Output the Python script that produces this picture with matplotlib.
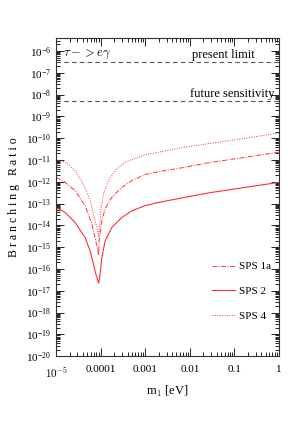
import numpy as np
import matplotlib
matplotlib.use("Agg")
import matplotlib.pyplot as plt
from matplotlib.ticker import LogLocator, FixedLocator, FixedFormatter, LogFormatterMathtext, NullFormatter

# values (log10 m1 [eV], log10 BR)
sps1a_logm = [-5.0, -4.798, -4.574, -4.350, -4.200, -4.126, -4.065, -4.050, -4.036, -3.975,
              -3.901, -3.751, -3.527, -3.303, -3.004, -2.735, -2.152, -1.547, -0.045, 0.0]
sps1a_logbr = [-11.80, -12.023, -12.406, -13.097, -13.926, -14.558, -15.171, -15.35, -14.71, -13.788,
               -13.235, -12.714, -12.253, -11.945, -11.668, -11.55, -11.346, -11.115, -10.654, -10.64]

sps2_logm = [-5.0, -4.798, -4.574, -4.350, -4.238, -4.164, -4.110, -4.045, -4.013, -3.975,
             -3.901, -3.751, -3.527, -3.303, -3.004, -2.735, -2.152, -1.547, -0.045, 0.0]
sps2_logbr = [-13.18, -13.406, -13.866, -14.558, -15.171, -15.77, -16.23, -16.65, -16.23, -15.479,
              -14.71, -14.097, -13.636, -13.327, -13.097, -12.959, -12.728, -12.498, -12.037, -12.03]

sps4_logm = [-5.0, -4.798, -4.574, -4.350, -4.238, -4.164, -4.087, -4.045, -3.991, -3.939,
             -3.827, -3.677, -3.453, -3.004, -2.735, -2.152, -1.547, -0.045, 0.0]
sps4_logbr = [-10.97, -11.101, -11.484, -12.253, -12.866, -13.465, -14.097, -14.5, -13.175, -12.558,
              -11.945, -11.484, -11.101, -10.76, -10.654, -10.424, -10.24, -9.779, -9.77]

present_limit = 3.1e-7
future_sensitivity = 5e-9

xtick_vals = [1e-5, 1e-4, 1e-3, 1e-2, 1e-1, 1]
xtick_labels = [r"$10^{-5}$", "0.0001", "0.001", "0.01", "0.1", "1"]

plt.rcParams['font.family'] = ['Liberation Serif', 'DejaVu Serif']
plt.rcParams['mathtext.fontset'] = 'cm'

fig = plt.figure(figsize=(3.05, 4.36), dpi=100)
ax = fig.add_axes([0.184, 0.183, 0.731, 0.730])

red = '#ff3030'
ax.plot(10**np.array(sps1a_logm), 10**np.array(sps1a_logbr), color=red, lw=0.7,
        ls=(0, (5, 1.5, 1, 1.5)), label='SPS 1a')
ax.plot(10**np.array(sps2_logm), 10**np.array(sps2_logbr), color=red, lw=0.8,
        ls='-', label='SPS 2')
ax.plot(10**np.array(sps4_logm), 10**np.array(sps4_logbr), color=red, lw=0.7,
        ls=(0, (1, 1.5)), label='SPS 4')

ax.axhline(present_limit, color='#555555', lw=0.8, ls=(0, (4, 3)))
ax.axhline(future_sensitivity, color='#555555', lw=0.8, ls=(0, (4, 3)))

ax.set_xscale('log')
ax.set_yscale('log')
ax.set_xlim(1e-5, 1)
ax.set_ylim(1e-20, 10**-5.4)

ax.xaxis.set_major_locator(FixedLocator(xtick_vals))
ax.xaxis.set_major_formatter(FixedFormatter(xtick_labels))
ax.xaxis.set_minor_locator(LogLocator(base=10, subs=np.arange(2, 10), numticks=20))
ax.xaxis.set_minor_formatter(NullFormatter())
ax.yaxis.set_major_locator(LogLocator(base=10, numticks=30))
ax.yaxis.set_major_formatter(LogFormatterMathtext())
ax.yaxis.set_minor_locator(LogLocator(base=10, subs=np.arange(2, 10), numticks=30))
ax.yaxis.set_minor_formatter(NullFormatter())

ax.tick_params(which='both', direction='in', top=True, right=True, labelsize=8, width=0.6)
ax.tick_params(which='major', length=6)
ax.tick_params(which='minor', length=3)
ax.tick_params(axis='x', pad=6)
for s in ax.spines.values():
    s.set_linewidth(0.8)
    s.set_color('#333333')

ax.set_xlabel(r"m$_1$ [eV]", fontsize=9, labelpad=3)
ax.set_ylabel("B r a n c h i n g   R a t i o", fontsize=8.5, labelpad=4)

ax.text(1.4e-5, 7.3e-7, r"$\tau->e\gamma$", fontsize=9, va='center')
ax.text(0.29, 4.8e-7, "present limit", fontsize=9, ha='right', va='baseline')
ax.text(0.77, 7.6e-9, "future sensitivity", fontsize=9, ha='right', va='baseline')

ax.legend(loc='center right', bbox_to_anchor=(1.01, 0.204), frameon=False, fontsize=8,
          handlelength=2.1, labelspacing=1.35, handletextpad=0.4)

fig.savefig('out.png', dpi=100)
